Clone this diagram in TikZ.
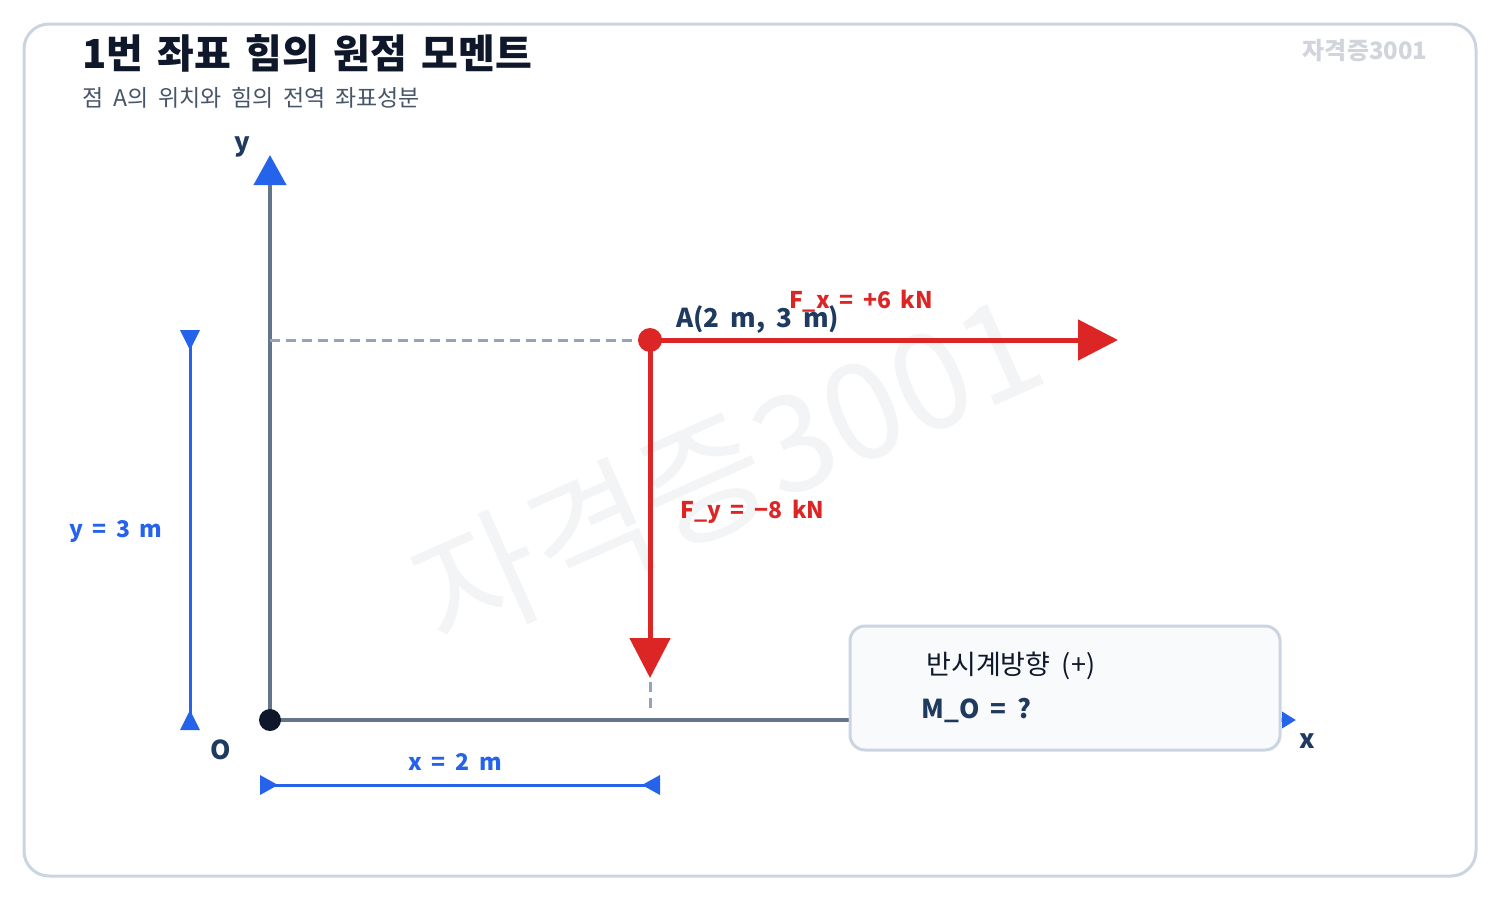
\documentclass[tikz,border=0pt]{standalone}
\usepackage{fontspec}
\setmainfont{Noto Sans CJK KR}
\usepackage{xcolor}
\usetikzlibrary{arrows.meta,positioning}

\definecolor{framegray}{HTML}{CBD5E1}
\definecolor{axisgray}{HTML}{64748B}
\definecolor{dashgray}{HTML}{94A3B8}
\definecolor{dimblue}{HTML}{2563EB}
\definecolor{forcered}{HTML}{DC2626}
\definecolor{inknavy}{HTML}{1E3A5F}
\definecolor{titleink}{HTML}{0F172A}
\definecolor{subink}{HTML}{475569}
\definecolor{boxfill}{HTML}{F8FAFC}
\definecolor{markgray}{HTML}{D1D5DB}
\definecolor{ghostgray}{HTML}{F3F4F6}

\newcommand{\widegap}{\spaceskip 0.42em\relax}
\newcommand{\titlegap}{\spaceskip 0.36em\relax}

\tikzset{
  lbl/.style={inner sep=0pt, font=\fontsize{11.5}{13}\selectfont\bfseries\widegap},
  navylbl/.style={lbl, text=inknavy},
  redlbl/.style={lbl, text=forcered},
  bluelbl/.style={lbl, text=dimblue},
  forcearrow/.style={forcered, line width=2.5pt, -{Triangle[length=20pt,width=20pt]}},
  dimline/.style={dimblue, line width=1.5pt},
  guideline/.style={dashgray, line width=1.5pt, dash pattern=on 5pt off 3pt},
}

\begin{document}
\begin{tikzpicture}[x=0.5pt, y=-0.5pt]
  \useasboundingbox (0,0) rectangle (1500,900);
  \draw[framegray, line width=1.5pt, rounded corners=12.5pt] (24,24) rectangle (1476,876);

  % watermark
  \node[text=ghostgray, font=\fontsize{67}{70}\selectfont, rotate=24] (ghost) at (727,470) {자격증3001};
  \node[text=markgray, font=\fontsize{12}{14}\selectfont\bfseries, anchor=east, inner sep=0pt] (mark) at (1428,51) {자격증3001};

  % title
  \node[text=titleink, font=\fontsize{20}{24}\selectfont\bfseries\titlegap, anchor=west, inner sep=0pt] (title) at (82,53) {1번 좌표 힘의 원점 모멘트};
  \node[text=subink, font=\fontsize{11.5}{14}\selectfont\widegap, anchor=west, inner sep=0pt] (subtitle) at (82,98) {점 A의 위치와 힘의 전역 좌표성분};

  % axes
  \coordinate (O) at (270,720);
  \coordinate (xend) at (1296,720);
  \coordinate (yend) at (270,155);
  \draw[axisgray, line width=2pt, -{Triangle[length=7pt,width=8pt,color=dimblue]}] (O) -- (xend);
  \draw[axisgray, line width=2pt, -{Triangle[length=15pt,width=16pt,color=dimblue]}] (O) -- (yend);
  \node[navylbl, font=\fontsize{13}{15}\selectfont\bfseries] (ylbl) at (242,147) {y};
  \node[navylbl, font=\fontsize{13}{15}\selectfont\bfseries] (xlbl) at (1307,741) {x};
  \node[navylbl, font=\fontsize{13}{15}\selectfont\bfseries] (olbl) at (221,750) {O};

  % point A and guides
  \coordinate (A) at (650,340);
  \coordinate (Ay) at (270,340);
  \coordinate (gtop) at (650,682);
  \coordinate (gbot) at (650,712);
  \coordinate (fxend) at (1118,340);
  \coordinate (fyend) at (650,678);
  \draw[guideline] (Ay) -- (A);
  \draw[guideline] (gtop) -- (gbot);
  \draw[forcearrow] (A) -- (fxend);
  \draw[forcearrow] (A) -- (fyend);
  \fill[forcered] (A) circle (6pt);
  \fill[titleink] (O) circle (5.5pt);

  \node[navylbl, font=\fontsize{13}{15}\selectfont\bfseries\widegap, anchor=west] (alabel) at (676,320) {A(2 m, 3 m)};
  \node[redlbl] (fxlbl) at (861,301) {F\_x = +6 kN};
  \node[redlbl, anchor=west] (fylbl) at (680,512) {F\_y = −8 kN};

  % dimensions
  \coordinate (ydimtop) at (190,330);
  \coordinate (ydimbot) at (190,730);
  \coordinate (xdiml) at (260,785);
  \coordinate (xdimr) at (660,785);
  \draw[dimline] (ydimtop) -- (ydimbot);
  \draw[dimline] (xdiml) -- (xdimr);
  \fill[dimblue] (180,330) -- (200,330) -- (190,350) -- cycle;
  \fill[dimblue] (180,730) -- (200,730) -- (190,710) -- cycle;
  \fill[dimblue] (260,775) -- (260,795) -- (278,785) -- cycle;
  \fill[dimblue] (660,775) -- (660,795) -- (642,785) -- cycle;
  \node[bluelbl, anchor=east] (ydimlbl) at (163,532) {y = 3 m};
  \node[bluelbl] (xdimlbl) at (455,762) {x = 2 m};

  % moment box
  \node[draw=framegray, fill=boxfill, line width=1.5pt, rounded corners=7.5pt,
        minimum width=215pt, minimum height=62pt, inner sep=0pt] (momentbox) at (1065,688) {};
  \node[anchor=west, inner sep=0pt, text=titleink, font=\fontsize{13.5}{15}\selectfont\widegap] (ccw) at (926,666) {반시계방향 (+)};
  \node[navylbl, font=\fontsize{13}{15}\selectfont\bfseries\widegap, anchor=west] (mo) at (921,710) {M\_O = ?};
\end{tikzpicture}
\end{document}
